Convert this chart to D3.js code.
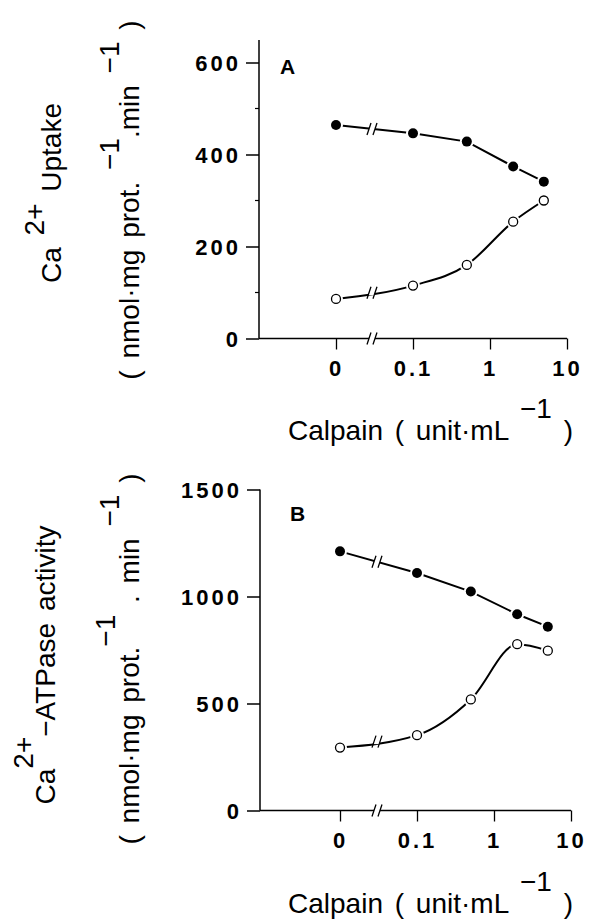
<!DOCTYPE html>
<html>
<head>
<meta charset="utf-8">
<script src="https://d3js.org/d3.v7.min.js"></script>
<style>
    body {margin: 0; background: #fff;}
    svg {display: block;}
    .tick text {font-family: "Liberation Sans", Arial, sans-serif; font-weight: bold; font-size: 22px; letter-spacing: 3px;}
    .lbl {font-family: "Liberation Sans", Arial, sans-serif; font-size: 28px; word-spacing: 4px;}
</style>
</head>
<body>
<div id="chart"></div>
<script>
    // calpain dose, unit/mL (0 is drawn one decade below 0.1)
    var doses = [0, 0.1, 0.5, 2, 5];
    var xTicks = [0, 0.1, 1, 10];
    var xTickLabels = ["0", "0.1", "1", "10"];

    // panel A: Ca2+ uptake
    var uptakeFilled = [464, 446, 428, 374, 341];
    var uptakeOpen = [86, 115, 160, 254, 300];
    var uptakeTicks = [0, 200, 400, 600];
    var uptakeMinor = [100, 300, 500];

    // panel B: Ca2+-ATPase activity
    var atpaseFilled = [1211, 1110, 1023, 917, 859];
    var atpaseOpen = [294, 352, 519, 777, 747];
    var atpaseTicks = [0, 500, 1000, 1500];
    var atpaseMinor = [];

    var svg = d3.select("#chart").append("svg")
        .attr("width", 589)
        .attr("height", 923);

    drawPanel({
        axisX: 259, xLeft: 336, xRight: 567,
        yBottom: 338.5, yTop: 62.5, axisTop: 40,
        yMax: 600, ticks: uptakeTicks, minor: uptakeMinor,
        filled: uptakeFilled, open: uptakeOpen,
        letter: "A", letterX: 280, letterY: 74,
        breakX: 372, calpainY: 440
    });

    drawPanel({
        axisX: 260, xLeft: 340, xRight: 571,
        yBottom: 810.5, yTop: 489.5, axisTop: 489.5,
        yMax: 1500, ticks: atpaseTicks, minor: atpaseMinor,
        filled: atpaseFilled, open: atpaseOpen,
        letter: "B", letterX: 290, letterY: 521,
        breakX: 377, calpainY: 913
    });

    // y-axis titles, panel A
    var tA = svg.append("text").attr("class", "lbl")
        .attr("transform", "translate(61,193) rotate(-90)")
        .attr("text-anchor", "middle");
    tA.append("tspan").text("Ca ");
    tA.append("tspan").attr("dy", -17).text("2+");
    tA.append("tspan").attr("dy", 17).text(" Uptake");

    var tA2 = svg.append("text").attr("class", "lbl")
        .attr("transform", "translate(139,200) rotate(-90)")
        .attr("text-anchor", "middle");
    tA2.append("tspan").text("( nmol\u00b7mg prot. ");
    tA2.append("tspan").attr("dy", -20).text("\u22121");
    tA2.append("tspan").attr("dy", 20).text(".min ");
    tA2.append("tspan").attr("dy", -20).text("\u22121");
    tA2.append("tspan").attr("dy", 20).text(" )");

    // y-axis titles, panel B
    var tB = svg.append("text").attr("class", "lbl")
        .attr("transform", "translate(55,665) rotate(-90)")
        .attr("text-anchor", "middle");
    tB.append("tspan").text("Ca");
    tB.append("tspan").attr("dy", -22).text("2+");
    tB.append("tspan").attr("dy", 22).text("\u2212ATPase activity");

    var tB2 = svg.append("text").attr("class", "lbl")
        .attr("transform", "translate(139,659) rotate(-90)")
        .attr("text-anchor", "middle");
    tB2.append("tspan").text("( nmol\u00b7mg prot.");
    tB2.append("tspan").attr("dy", -24).text("\u22121");
    tB2.append("tspan").attr("dy", 24).text(" . min ");
    tB2.append("tspan").attr("dy", -20).text("\u22121");
    tB2.append("tspan").attr("dy", 20).text(" )");

    function drawPanel(p)
    {
        var x = d3.scaleLog().domain([0.01, 10]).range([p.xLeft, p.xRight]);
        var xPos = function(v){ return x(v === 0 ? 0.01 : v); };
        var y = d3.scaleLinear().domain([0, p.yMax]).range([p.yBottom, p.yTop]);

        var g = svg.append("g");

        // y axis
        var yAxis = d3.axisLeft(y).tickValues(p.ticks).tickSize(13).tickPadding(5)
            .tickFormat(function(d){ return String(d); });
        var gy = g.append("g").attr("transform", "translate(" + p.axisX + ",0)").call(yAxis);
        gy.select(".domain").remove();
        gy.selectAll(".tick line").attr("stroke-width", 1.5);
        gy.selectAll(".tick text").attr("dy", "0.36em");
        gy.append("line")
            .attr("x1", 0).attr("x2", 0)
            .attr("y1", p.axisTop).attr("y2", p.yBottom)
            .attr("stroke", "#000").attr("stroke-width", 1.5);
        gy.selectAll(".minor").data(p.minor).enter().append("line")
            .attr("x1", -4).attr("x2", 0)
            .attr("y1", function(d){ return y(d); }).attr("y2", function(d){ return y(d); })
            .attr("stroke", "#000").attr("stroke-width", 1.2);

        // x axis
        var xAxis = d3.axisBottom(x)
            .tickValues(xTicks.map(function(v){ return v === 0 ? 0.01 : v; }))
            .tickFormat(function(d, i){ return xTickLabels[i]; })
            .tickSize(11).tickPadding(11);
        var gx = g.append("g").attr("transform", "translate(0," + p.yBottom + ")").call(xAxis);
        gx.select(".domain").remove();
        gx.selectAll(".tick line").attr("stroke-width", 1.3);
        gx.append("line")
            .attr("x1", p.axisX).attr("x2", p.breakX - 3)
            .attr("stroke", "#000").attr("stroke-width", 1.5);
        gx.append("line")
            .attr("x1", p.breakX + 3).attr("x2", p.xRight)
            .attr("stroke", "#000").attr("stroke-width", 1.5);
        drawSlashes(gx, p.breakX, 0);

        // series
        var idx = d3.range(doses.length);
        var lineFilled = d3.line()
            .x(function(i){ return xPos(doses[i]); })
            .y(function(i){ return y(p.filled[i]); });
        var lineOpen = d3.line()
            .curve(d3.curveMonotoneX)
            .x(function(i){ return xPos(doses[i]); })
            .y(function(i){ return y(p.open[i]); });

        [[lineFilled, p.filled], [lineOpen, p.open]].forEach(function(s)
        {
            g.append("path")
                .datum(idx)
                .attr("fill", "none")
                .attr("stroke", "#000")
                .attr("stroke-width", 2)
                .attr("d", s[0]);

            // break on the first segment
            var x0 = xPos(doses[0]), x1 = xPos(doses[1]);
            var t = (p.breakX - x0) / (x1 - x0);
            var yb = y(s[1][0]) + t * (y(s[1][1]) - y(s[1][0]));
            g.append("line")
                .attr("x1", p.breakX - 3).attr("x2", p.breakX + 3)
                .attr("y1", yb).attr("y2", yb)
                .attr("stroke", "#fff").attr("stroke-width", 5);
            drawSlashes(g, p.breakX, yb);
        });

        // markers with a white halo so the lines stop short
        g.selectAll(".halo").data(idx.concat(idx)).enter().append("circle")
            .attr("cx", function(i){ return xPos(doses[i]); })
            .attr("cy", function(i, k){ return k < idx.length ? y(p.filled[i]) : y(p.open[i]); })
            .attr("r", 7)
            .attr("fill", "#fff");
        g.selectAll(".dotF").data(idx).enter().append("circle")
            .attr("cx", function(i){ return xPos(doses[i]); })
            .attr("cy", function(i){ return y(p.filled[i]); })
            .attr("r", 5)
            .attr("fill", "#000");
        g.selectAll(".dotO").data(idx).enter().append("circle")
            .attr("cx", function(i){ return xPos(doses[i]); })
            .attr("cy", function(i){ return y(p.open[i]); })
            .attr("r", 4.5)
            .attr("fill", "#fff")
            .attr("stroke", "#000")
            .attr("stroke-width", 1.3);

        // panel letter
        g.append("text")
            .attr("x", p.letterX).attr("y", p.letterY)
            .attr("font-family", "Liberation Sans, Arial, sans-serif")
            .attr("font-weight", "bold").attr("font-size", 21)
            .text(p.letter);

        // x-axis title
        var tx = g.append("text").attr("class", "lbl")
            .attr("x", 288).attr("y", p.calpainY);
        tx.append("tspan").text("Calpain ( unit\u00b7mL ");
        tx.append("tspan").attr("dy", -22).text("\u22121");
        tx.append("tspan").attr("dy", 22).text(" )");
    }

    function drawSlashes(sel, cx, cy)
    {
        [-3, 3].forEach(function(dx)
        {
            sel.append("line")
                .attr("x1", cx + dx - 2).attr("y1", cy + 6)
                .attr("x2", cx + dx + 2).attr("y2", cy - 6)
                .attr("stroke", "#000").attr("stroke-width", 1.3);
        });
    }
</script>
</body>
</html>
